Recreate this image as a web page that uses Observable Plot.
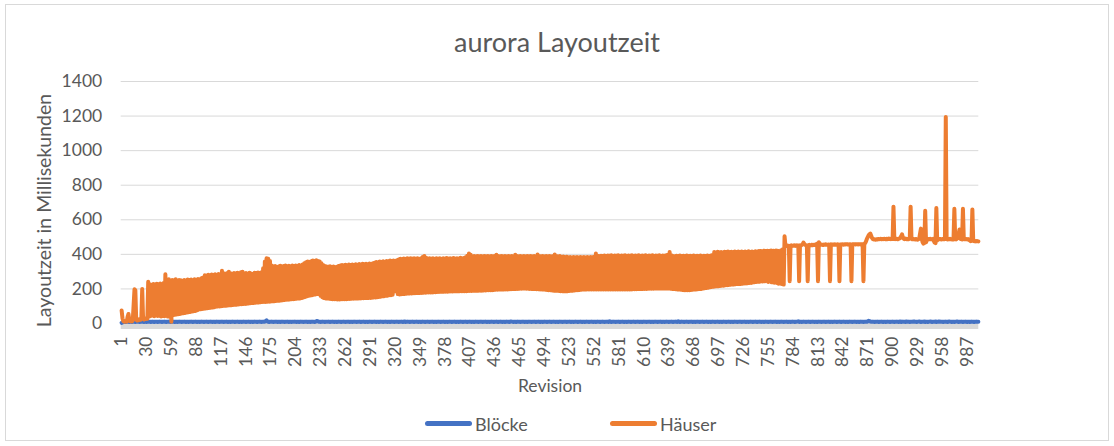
<!DOCTYPE html>
<html>
<head>
<meta charset="utf-8">
<script src="https://cdn.jsdelivr.net/npm/d3@7"></script>
<script src="https://cdn.jsdelivr.net/npm/@observablehq/plot@0.6"></script>
<style>
  body { margin: 0; background: #fff; }
  #wrap { position: relative; width: 1114px; height: 446px; overflow: hidden; font-family: Lato, "Open Sans", sans-serif; color: #595959; }
  #frame { position: absolute; left: 5px; top: 4px; width: 1104px; height: 437px; border: 1px solid #d9d9d9; box-sizing: border-box; }
  #title { position: absolute; left: 0; top: 25px; width: 1114px; text-align: center; font-size: 27px; line-height: normal; }
  #chart { position: absolute; left: 0; top: 61px; }
  #legend { position: absolute; left: 0; top: 413px; width: 1114px; height: 24px; font-size: 18px; line-height: normal; }
  .sw { position: absolute; top: 8px; width: 47px; height: 4.5px; border-radius: 2.5px; }
  .lt { position: absolute; top: 0; white-space: nowrap; }
</style>
</head>
<body>
<div id="wrap">
  <div id="frame"></div>
  <div id="title"></div>
  <div id="chart"></div>
  <div id="legend"></div>
</div>
<script>
const chartTitle = "aurora Layoutzeit";
const xLabel = "Revision";
const yLabel = "Layoutzeit in Millisekunden";
const seriesNames = ["Blöcke", "Häuser"];
const seriesColors = ["#4472C4", "#ED7D31"];
const yTicks = [0, 200, 400, 600, 800, 1000, 1200, 1400];
const xTicks = [1, 30, 59, 88, 117, 146, 175, 204, 233, 262, 291, 320, 349, 378, 407, 436, 465, 494, 523, 552, 581, 610, 639, 668, 697, 726, 755, 784, 813, 842, 871, 900, 929, 958, 987];

// Häuser (ms) per revision 1..1000
const haeuser = [
75,30,14,10,12,16,11,40,55,20,13,15,12,18,110,198,192,22,18,24,
20,26,22,34,199,28,24,30,26,32,28,241,40,227,44,222,47,229,42,224,
46,230,43,226,45,232,41,225,44,234,42,285,45,252,40,256,44,248,10,252,
48,250,50,256,52,246,54,252,55,250,58,246,59,252,61,248,63,254,65,250,
67,255,69,249,71,256,73,251,76,258,81,254,82,262,84,266,85,279,87,276,
88,282,90,277,91,284,92,279,94,285,97,280,98,286,99,282,100,305,101,290,
102,286,103,292,104,300,105,290,106,287,107,292,108,288,109,294,110,289,111,296,
112,299,113,288,113,292,114,286,116,293,117,289,118,287,119,293,120,290,121,295,
122,291,123,297,124,320,125,358,125,377,126,374,126,362,127,335,128,328,129,332,
130,326,131,330,132,334,133,328,135,332,136,336,137,330,138,334,139,329,140,335,
141,331,142,336,143,332,144,338,145,334,147,342,150,348,153,355,157,358,160,354,
162,360,164,364,166,358,168,366,170,362,172,358,160,348,152,338,147,333,145,330,
144,328,143,331,142,327,141,330,140,326,140,329,139,332,139,336,140,338,140,335,
141,340,141,336,142,341,142,337,143,342,143,338,144,343,144,339,145,344,145,340,
146,345,146,341,147,346,147,342,148,347,148,343,149,348,150,352,151,356,152,353,
154,358,155,355,157,360,158,356,160,362,161,358,163,364,164,360,166,365,185,362,
190,366,170,370,168,374,169,371,170,376,171,373,172,377,173,374,174,378,174,375,
175,378,175,374,176,377,176,373,177,378,177,384,178,391,178,380,179,375,179,378,
180,374,180,377,181,373,181,378,182,374,182,377,183,373,183,378,184,375,184,379,
184,374,185,378,185,375,185,379,186,374,186,378,186,375,187,380,187,376,187,379,
187,383,187,392,188,405,188,398,188,388,189,390,189,386,189,391,190,387,190,390,
190,386,191,391,191,387,192,390,192,386,193,391,193,387,194,390,195,398,195,391,
196,387,196,390,196,386,197,391,197,388,197,390,198,386,198,391,199,388,199,398,
200,390,200,387,201,391,201,388,202,390,202,386,201,391,201,387,200,390,200,388,
199,391,199,387,198,399,198,390,197,387,197,391,196,388,195,390,194,387,193,391,
192,388,191,390,190,399,189,391,189,388,188,390,187,385,187,388,186,383,186,386,
187,382,188,385,189,381,190,384,191,382,192,385,193,381,194,384,195,382,196,385,
196,381,197,384,197,382,197,385,197,383,197,386,197,405,197,392,197,389,197,392,
197,390,197,393,197,391,197,394,197,392,197,395,197,391,197,394,197,392,197,395,
197,391,197,394,197,392,197,395,197,391,197,394,197,392,197,395,198,391,198,394,
198,392,199,395,199,391,199,394,200,392,200,395,200,391,201,394,201,392,201,395,
201,391,202,394,202,392,202,395,202,391,202,394,202,392,202,395,202,398,202,414,
201,395,200,391,199,389,198,392,197,390,196,393,195,389,194,392,193,390,192,393,
192,389,193,392,194,390,195,393,196,389,197,392,198,390,199,393,200,389,202,392,
204,390,205,393,207,391,209,394,211,396,212,413,214,410,215,415,216,411,217,414,
218,410,219,415,221,412,222,416,223,411,224,415,225,412,226,417,227,413,228,416,
228,412,229,417,230,413,231,416,232,412,233,418,234,414,235,417,237,414,239,418,
240,415,241,419,242,420,418,243,419,421,244,420,418,421,240,419,420,422,238,420,
421,236,419,422,235,421,230,418,232,424,228,430,225,505,452,448,451,450,449,245,
450,452,449,451,450,453,449,452,450,451,245,452,450,454,458,468,460,455,453,452,
245,453,455,452,454,456,453,455,454,457,458,462,245,470,462,457,455,456,454,457,
455,458,456,455,457,456,245,458,456,457,455,458,456,457,455,458,456,245,457,456,
458,457,456,458,457,459,457,458,456,459,457,245,458,457,459,458,457,459,458,457,
459,458,457,459,458,245,460,465,475,490,500,510,516,520,508,495,488,486,487,485,
488,486,489,487,488,490,487,489,488,490,489,487,490,488,491,489,490,488,491,489,
676,490,488,491,489,487,490,492,495,505,516,498,490,488,491,489,487,490,488,491,
676,489,487,490,488,486,489,487,485,488,490,520,549,490,470,462,465,652,470,482,
486,489,487,490,488,486,489,478,468,465,668,480,488,490,487,489,486,488,490,487,
489,1195,488,486,489,487,490,488,486,489,487,664,488,486,490,500,520,544,490,488,
486,664,489,487,490,488,486,489,485,480,476,478,660,480,476,478,475,477,476,475
];

// Blöcke (ms) per revision 1..1000
const bloecke = [
4,6,8,9,10,9,10,11,10,9,10,10,9,10,11,10,9,10,10,11,
10,9,10,10,11,10,9,10,10,9,10,11,10,10,9,10,11,10,9,10,
10,10,9,10,11,10,10,9,10,10,11,10,9,10,10,11,10,9,10,10,
11,10,9,10,10,9,10,11,10,10,9,10,10,11,10,9,10,10,9,10,
10,11,10,9,10,10,11,10,9,10,10,9,10,11,10,10,9,10,10,11,
10,9,10,10,11,10,9,10,10,9,10,11,10,10,9,10,10,11,10,9,
10,10,11,10,9,10,10,9,10,11,10,10,9,10,10,11,10,9,10,10,
9,10,11,10,10,9,10,10,11,10,9,10,10,9,10,11,10,10,9,10,
10,11,10,9,10,10,11,10,14,18,12,10,9,10,10,11,10,9,10,10,
11,10,9,10,10,9,10,11,10,10,9,10,10,11,10,9,10,10,9,10,
10,10,11,10,9,10,10,9,10,11,10,10,9,10,10,11,10,9,10,10,
9,10,11,10,10,9,10,13,15,12,10,10,9,10,11,10,10,9,10,10,
10,11,10,9,10,10,11,10,9,10,10,9,10,11,10,10,9,10,10,11,
10,9,10,10,11,10,9,10,10,9,10,11,10,10,9,10,10,11,10,9,
10,10,11,10,9,10,10,9,10,11,10,10,9,10,10,11,10,9,10,10,
9,10,11,10,10,9,10,10,11,10,9,10,10,9,10,11,10,10,9,10,
10,11,10,9,10,10,11,10,9,10,12,9,10,11,10,10,9,10,10,11,
10,9,10,10,11,10,9,10,10,9,10,11,10,10,9,10,10,11,10,9,
10,10,11,10,9,10,10,9,10,11,10,10,9,10,10,11,10,9,10,10,
9,10,11,10,10,9,10,10,11,10,9,10,10,9,10,11,10,10,9,10,
10,11,10,9,10,10,11,10,9,10,10,9,10,11,10,10,9,10,10,11,
10,9,10,10,11,10,9,10,10,9,10,11,10,10,9,10,10,11,10,9,
10,10,11,10,9,10,10,9,10,11,10,10,9,10,12,11,10,9,10,10,
9,10,11,10,10,9,10,10,11,10,9,10,10,9,10,11,10,10,9,10,
10,11,10,9,10,10,11,10,9,10,10,9,10,11,10,10,9,10,10,11,
10,9,10,10,11,10,9,10,10,9,10,11,10,10,9,10,10,11,10,9,
10,10,11,10,9,10,10,9,10,11,10,10,9,10,10,11,10,9,10,10,
9,10,11,10,10,9,10,10,11,10,9,10,10,9,10,11,10,10,9,10,
10,11,10,9,10,10,11,10,9,13,10,9,10,11,10,10,9,10,10,11,
10,9,10,10,11,10,9,10,10,9,10,11,10,10,9,10,10,11,10,9,
10,10,11,10,9,10,10,9,10,11,10,10,9,10,10,11,10,9,10,10,
9,10,11,10,10,9,10,10,11,10,9,10,10,9,10,11,10,10,9,10,
10,11,10,9,10,10,11,10,9,13,10,9,10,11,10,10,9,10,10,11,
10,9,10,10,11,10,9,10,10,9,10,11,10,10,9,10,10,11,10,9,
10,10,11,10,9,10,10,9,10,11,10,10,9,10,10,11,10,9,10,10,
9,10,11,10,10,9,10,10,11,10,9,10,10,9,10,11,10,10,9,10,
10,11,10,9,10,10,11,10,9,10,10,9,10,11,10,10,9,10,10,11,
10,9,10,10,11,10,9,10,10,9,10,11,10,10,9,10,10,11,10,9,
10,10,11,10,9,10,10,9,10,11,10,10,9,10,10,11,10,9,10,10,
9,10,11,10,10,9,10,10,11,13,9,10,10,9,10,11,10,10,9,10,
10,11,10,9,10,10,11,10,9,10,10,9,10,11,10,10,9,10,10,11,
10,9,10,10,11,10,9,10,10,9,10,11,10,10,9,10,10,11,10,9,
10,10,11,10,9,10,10,9,10,11,10,10,9,10,10,11,10,9,10,10,
9,10,11,10,10,9,10,10,11,10,12,16,14,11,10,11,10,10,9,10,
10,11,10,9,10,10,11,10,9,10,10,9,10,11,10,10,9,10,10,11,
10,9,10,10,11,10,9,10,12,9,10,11,10,10,9,12,10,11,10,9,
10,10,11,10,12,10,10,9,10,11,12,10,9,10,10,11,12,9,10,10,
9,10,11,12,10,9,10,10,11,12,9,10,10,12,10,11,10,10,9,10,
10,11,10,9,10,12,11,10,9,10,10,9,10,11,12,10,9,10,10,11,
10,9,10,10,11,10,9,10,10,9,10,11,10,10,9,10,10,11,10,10
];

document.getElementById("title").textContent = chartTitle;

const blockRows = bloecke.map((v, i) => ({rev: i + 1, ms: v}));
const houseRows = haeuser.map((v, i) => ({rev: i + 1, ms: v}));

const chart = Plot.plot({
  width: 1114,
  height: 340,
  marginLeft: 120.7,
  marginRight: 135.7,
  marginTop: 20,
  marginBottom: 78,
  style: {fontFamily: "Lato, 'Open Sans', sans-serif", fontSize: "17.5px", color: "#595959", background: "transparent", overflow: "visible"},
  x: {domain: [0.5, haeuser.length + 0.5]},
  y: {domain: [0, 1400]},
  marks: [
    Plot.gridY(yTicks, {stroke: "#d9d9d9", strokeOpacity: 1, strokeWidth: 1}),
    Plot.ruleY([0], {stroke: "#d9d9d9", strokeWidth: 5, dy: 3}),
    Plot.axisY(yTicks, {tickSize: 0, tickPadding: 19, tickFormat: d => String(d), label: null}),
    Plot.text([yLabel], {frameAnchor: "left", rotate: -90, textAnchor: "middle", lineAnchor: "middle", dx: -76, dy: 8, fontSize: 19.5, fill: "#595959", text: d => d}),
    Plot.axisX(xTicks, {tickSize: 0, tickPadding: 13, tickRotate: -90, textAnchor: "end", tickFormat: d => String(d), label: xLabel, labelAnchor: "center", labelOffset: 68, labelArrow: "none"}),
    Plot.line(blockRows, {x: "rev", y: "ms", stroke: seriesColors[0], strokeWidth: 4, strokeLinejoin: "round", strokeLinecap: "round"}),
    Plot.line(houseRows, {x: "rev", y: "ms", stroke: seriesColors[1], strokeWidth: 4, strokeLinejoin: "round", strokeLinecap: "round"})
  ]
});
document.getElementById("chart").appendChild(chart);

const legend = document.getElementById("legend");
const swatchLeft = [425, 610];
seriesNames.forEach((name, i) => {
  const sw = document.createElement("span");
  sw.className = "sw";
  sw.style.left = swatchLeft[i] + "px";
  sw.style.background = seriesColors[i];
  legend.appendChild(sw);
  const t = document.createElement("span");
  t.className = "lt";
  t.style.left = (swatchLeft[i] + 50) + "px";
  t.textContent = name;
  legend.appendChild(t);
});
</script>
</body>
</html>
